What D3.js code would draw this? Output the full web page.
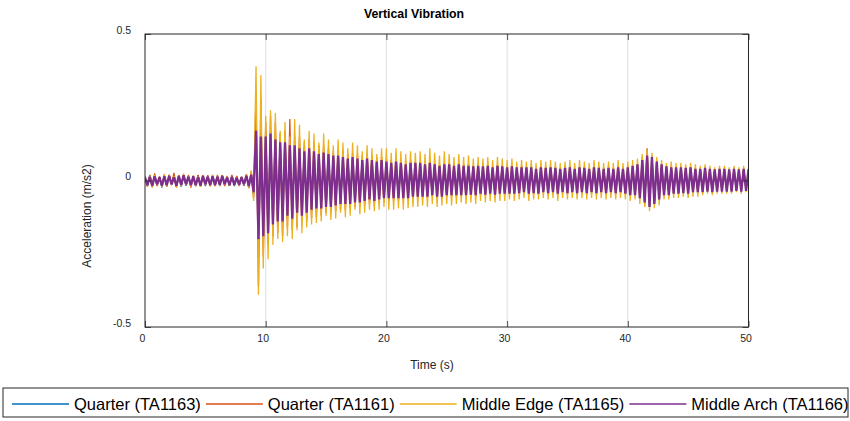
<!DOCTYPE html>
<html><head><meta charset="utf-8">
<script src="https://cdn.jsdelivr.net/npm/d3@7"></script>
<style>body{margin:0;background:#fff}svg{display:block;font-family:"Liberation Sans",Arial,Helvetica,sans-serif}</style>
</head><body><svg id="chart" width="850" height="421"></svg>
<script>
// ---------- chart data ----------
const chartTitle = "Vertical Vibration";
const xLabel = "Time (s)";
const yLabel = "Acceleration (m/s2)";
const xTicks = [0, 10, 20, 30, 40, 50];
const xTickLabels = ["0", "10", "20", "30", "40", "50"];
const yTicks = [-0.5, 0, 0.5];
const yTickLabels = ["-0.5", "0", "0.5"];
const seriesNames = ["Quarter (TA1163)", "Quarter (TA1161)", "Middle Edge (TA1165)", "Middle Arch (TA1166)"];
const seriesColors = ["#0072BD", "#D95319", "#EDB120", "#7E2F8E"];
const sampleStep = 0.2; // seconds between samples, starting at t = 0

const quarterTA1163 = [
0.014,-0.019,0.018,-0.021,0.016,-0.018,0.013,-0.024,0.016,-0.019,
0.018,-0.016,0.019,-0.022,0.014,-0.021,0.016,-0.018,0.014,-0.019,
0.016,-0.019,0.018,-0.016,0.014,-0.019,0.016,-0.018,0.019,-0.016,
0.014,-0.019,0.018,-0.016,0.013,-0.018,0.016,-0.019,0.014,-0.016,
0.013,-0.018,0.019,-0.024,0.025,-0.05,0.22,-0.26,0.2,-0.22,
0.17,-0.2,0.17,-0.16,0.16,-0.15,0.14,-0.15,0.14,-0.13,
0.13,-0.14,0.12,-0.12,0.12,-0.12,0.11,-0.11,0.11,-0.1,
0.1,-0.1,0.095,-0.095,0.095,-0.09,0.09,-0.09,0.085,-0.085,
0.085,-0.08,0.08,-0.08,0.075,-0.075,0.075,-0.07,0.07,-0.07,
0.07,-0.065,0.07,-0.065,0.065,-0.065,0.06,-0.06,0.065,-0.06,
0.06,-0.055,0.055,-0.055,0.06,-0.055,0.055,-0.05,0.05,-0.05,
0.055,-0.05,0.05,-0.05,0.05,-0.048,0.048,-0.048,0.05,-0.045,
0.048,-0.045,0.045,-0.045,0.048,-0.045,0.045,-0.043,0.043,-0.043,
0.045,-0.04,0.043,-0.043,0.043,-0.04,0.04,-0.043,0.043,-0.04,
0.04,-0.04,0.043,-0.04,0.04,-0.04,0.043,-0.038,0.04,-0.04,
0.038,-0.038,0.04,-0.038,0.038,-0.036,0.04,-0.035,0.038,-0.038,
0.038,-0.036,0.035,-0.038,0.038,-0.035,0.036,-0.036,0.038,-0.035,
0.036,-0.038,0.035,-0.035,0.036,-0.036,0.038,-0.035,0.035,-0.036,
0.038,-0.035,0.036,-0.036,0.035,-0.035,0.038,-0.036,0.036,-0.035,
0.035,-0.036,0.036,-0.035,0.035,-0.036,0.038,-0.035,0.035,-0.038,
0.038,-0.042,0.042,-0.043,0.048,-0.055,0.065,-0.07,0.085,-0.085,
0.075,-0.075,0.06,-0.06,0.05,-0.045,0.042,-0.043,0.042,-0.04,
0.04,-0.04,0.04,-0.038,0.038,-0.04,0.04,-0.035,0.035,-0.035,
0.035,-0.035,0.036,-0.032,0.035,-0.035,0.032,-0.032,0.035,-0.032,
0.035,-0.032,0.032,-0.032,0.035,-0.03,0.032,-0.032,0.035,-0.03,
0.032];

const quarterTA1161 = [
0.016,-0.021,0.019,-0.016,0.024,-0.019,0.014,-0.018,0.021,-0.022,
0.019,-0.014,0.026,-0.021,0.016,-0.019,0.018,-0.016,0.019,-0.024,
0.014,-0.018,0.019,-0.021,0.016,-0.014,0.018,-0.019,0.016,-0.018,
0.019,-0.016,0.014,-0.019,0.016,-0.018,0.019,-0.014,0.016,-0.019,
0.014,-0.016,0.022,-0.026,0.03,-0.06,0.3,-0.36,0.28,-0.26,
0.2,-0.22,0.22,-0.19,0.2,-0.18,0.16,-0.19,0.17,-0.16,
0.21,-0.17,0.15,-0.16,0.15,-0.14,0.13,-0.14,0.14,-0.13,
0.13,-0.125,0.12,-0.12,0.12,-0.11,0.11,-0.11,0.1,-0.105,
0.105,-0.1,0.1,-0.1,0.09,-0.095,0.095,-0.09,0.09,-0.09,
0.085,-0.085,0.09,-0.08,0.08,-0.085,0.08,-0.075,0.08,-0.075,
0.075,-0.07,0.07,-0.07,0.075,-0.07,0.07,-0.065,0.065,-0.065,
0.07,-0.06,0.065,-0.06,0.065,-0.06,0.06,-0.06,0.065,-0.055,
0.06,-0.06,0.055,-0.06,0.06,-0.055,0.06,-0.055,0.055,-0.055,
0.06,-0.05,0.055,-0.055,0.055,-0.05,0.05,-0.055,0.055,-0.05,
0.05,-0.05,0.055,-0.05,0.05,-0.05,0.055,-0.045,0.05,-0.05,
0.045,-0.045,0.05,-0.045,0.045,-0.045,0.05,-0.04,0.045,-0.045,
0.045,-0.045,0.04,-0.045,0.045,-0.04,0.045,-0.045,0.045,-0.04,
0.045,-0.045,0.04,-0.04,0.045,-0.045,0.045,-0.04,0.04,-0.045,
0.045,-0.04,0.045,-0.045,0.04,-0.04,0.045,-0.045,0.045,-0.04,
0.04,-0.045,0.045,-0.04,0.04,-0.045,0.045,-0.04,0.04,-0.045,
0.045,-0.05,0.05,-0.05,0.055,-0.06,0.08,-0.085,0.11,-0.09,
0.085,-0.08,0.065,-0.065,0.055,-0.05,0.05,-0.05,0.05,-0.045,
0.045,-0.045,0.045,-0.04,0.04,-0.045,0.045,-0.04,0.04,-0.04,
0.04,-0.04,0.04,-0.035,0.04,-0.04,0.035,-0.035,0.04,-0.035,
0.04,-0.035,0.035,-0.035,0.04,-0.03,0.035,-0.035,0.04,-0.03,
0.035];

const middleEdgeTA1165 = [
0.014,-0.02,0.016,-0.024,0.019,-0.016,0.01,-0.022,0.018,-0.02,
0.021,-0.016,0.015,-0.025,0.019,-0.018,0.024,-0.015,0.016,-0.021,
0.018,-0.02,0.013,-0.022,0.019,-0.016,0.015,-0.021,0.018,-0.02,
0.016,-0.018,0.019,-0.015,0.013,-0.019,0.015,-0.016,0.012,-0.018,
0.013,-0.015,0.019,-0.024,0.035,-0.07,0.39,-0.39,0.36,-0.3,
0.22,-0.27,0.24,-0.22,0.23,-0.2,0.17,-0.21,0.2,-0.19,
0.15,-0.2,0.21,-0.17,0.19,-0.18,0.14,-0.16,0.17,-0.15,
0.16,-0.145,0.13,-0.14,0.16,-0.12,0.14,-0.135,0.12,-0.13,
0.14,-0.11,0.13,-0.125,0.11,-0.12,0.13,-0.1,0.12,-0.115,
0.1,-0.11,0.12,-0.1,0.11,-0.105,0.09,-0.1,0.11,-0.09,
0.11,-0.1,0.095,-0.1,0.11,-0.095,0.1,-0.1,0.09,-0.095,
0.1,-0.09,0.095,-0.09,0.1,-0.085,0.09,-0.09,0.11,-0.08,
0.095,-0.09,0.085,-0.085,0.1,-0.08,0.09,-0.085,0.08,-0.08,
0.09,-0.075,0.08,-0.08,0.085,-0.075,0.075,-0.08,0.08,-0.07,
0.075,-0.075,0.08,-0.07,0.07,-0.075,0.08,-0.07,0.075,-0.07,
0.07,-0.065,0.075,-0.07,0.065,-0.065,0.07,-0.06,0.065,-0.07,
0.07,-0.065,0.06,-0.065,0.07,-0.06,0.065,-0.065,0.07,-0.06,
0.065,-0.07,0.06,-0.06,0.065,-0.065,0.07,-0.06,0.06,-0.065,
0.07,-0.06,0.065,-0.065,0.06,-0.06,0.07,-0.065,0.065,-0.06,
0.06,-0.065,0.065,-0.06,0.06,-0.065,0.07,-0.06,0.06,-0.065,
0.065,-0.07,0.07,-0.065,0.075,-0.08,0.09,-0.09,0.105,-0.105,
0.095,-0.095,0.08,-0.085,0.07,-0.065,0.06,-0.065,0.065,-0.06,
0.06,-0.06,0.06,-0.055,0.055,-0.06,0.06,-0.055,0.055,-0.055,
0.05,-0.05,0.055,-0.045,0.05,-0.05,0.045,-0.045,0.05,-0.045,
0.05,-0.045,0.045,-0.045,0.05,-0.04,0.045,-0.045,0.05,-0.04,
0.045];

const middleArchTA1166 = [
0.01,-0.016,0.013,-0.019,0.014,-0.013,0.011,-0.018,0.014,-0.016,
0.016,-0.013,0.011,-0.019,0.016,-0.015,0.018,-0.013,0.013,-0.016,
0.014,-0.016,0.011,-0.018,0.016,-0.013,0.013,-0.016,0.014,-0.016,
0.013,-0.015,0.016,-0.013,0.011,-0.016,0.013,-0.015,0.01,-0.015,
0.011,-0.013,0.016,-0.019,0.02,-0.04,0.17,-0.2,0.15,-0.19,
0.15,-0.18,0.16,-0.15,0.14,-0.14,0.13,-0.14,0.13,-0.12,
0.12,-0.13,0.12,-0.11,0.11,-0.12,0.1,-0.11,0.11,-0.1,
0.1,-0.095,0.09,-0.095,0.095,-0.09,0.09,-0.09,0.085,-0.085,
0.085,-0.08,0.08,-0.08,0.075,-0.08,0.08,-0.075,0.075,-0.075,
0.07,-0.07,0.075,-0.065,0.07,-0.07,0.065,-0.065,0.07,-0.06,
0.065,-0.06,0.06,-0.06,0.065,-0.06,0.06,-0.06,0.055,-0.06,
0.06,-0.055,0.06,-0.055,0.06,-0.055,0.055,-0.055,0.06,-0.05,
0.055,-0.055,0.05,-0.055,0.055,-0.05,0.055,-0.05,0.05,-0.05,
0.055,-0.05,0.05,-0.05,0.05,-0.048,0.048,-0.05,0.05,-0.045,
0.048,-0.048,0.05,-0.045,0.045,-0.048,0.05,-0.045,0.048,-0.045,
0.045,-0.045,0.048,-0.045,0.045,-0.043,0.045,-0.04,0.045,-0.045,
0.045,-0.043,0.04,-0.045,0.045,-0.04,0.043,-0.043,0.045,-0.04,
0.043,-0.045,0.04,-0.04,0.043,-0.043,0.045,-0.04,0.04,-0.043,
0.045,-0.04,0.043,-0.043,0.04,-0.04,0.045,-0.043,0.043,-0.04,
0.04,-0.043,0.043,-0.04,0.04,-0.043,0.045,-0.04,0.04,-0.045,
0.045,-0.05,0.05,-0.05,0.055,-0.06,0.07,-0.075,0.085,-0.09,
0.08,-0.08,0.065,-0.065,0.055,-0.05,0.048,-0.05,0.045,-0.045,
0.045,-0.045,0.045,-0.043,0.043,-0.045,0.045,-0.04,0.04,-0.04,
0.04,-0.04,0.043,-0.038,0.04,-0.04,0.038,-0.038,0.04,-0.038,
0.04,-0.038,0.038,-0.038,0.04,-0.035,0.038,-0.038,0.04,-0.035,
0.038];

const seriesValues = [quarterTA1163, quarterTA1161, middleEdgeTA1165, middleArchTA1166];
const seriesWidths = [1.3, 1.3, 1.3, 2.3];

// ---------- layout ----------
const plot = {left: 145, right: 748.5, top: 34, bottom: 327};
const axisColor = "#262626";
const svg = d3.select("#chart");

const x = d3.scaleLinear().domain([0, 50]).range([plot.left, plot.right]);
const y = d3.scaleLinear().domain([-0.5, 0.5]).range([plot.bottom, plot.top]);

// grid (vertical)
svg.append("g").selectAll("line")
  .data(xTicks.filter(t => t > 0 && t < 50))
  .join("line")
  .attr("x1", d => x(d)).attr("x2", d => x(d))
  .attr("y1", plot.top).attr("y2", plot.bottom)
  .attr("stroke", "#dedede").attr("stroke-width", 1);

// series
svg.append("clipPath").attr("id", "plotclip").append("rect")
  .attr("x", plot.left).attr("y", plot.top)
  .attr("width", plot.right - plot.left).attr("height", plot.bottom - plot.top);

const lineGen = d3.line()
  .x((d, i) => x(i * sampleStep))
  .y(d => y(d));

const gSeries = svg.append("g").attr("clip-path", "url(#plotclip)");
seriesValues.forEach((vals, k) => {
  gSeries.append("path")
    .datum(vals)
    .attr("d", lineGen)
    .attr("fill", "none")
    .attr("stroke", seriesColors[k])
    .attr("stroke-width", seriesWidths[k])
    .attr("stroke-linejoin", "bevel");
});

// axes (inward ticks, box)
const tickLen = 6;
const styleAxis = g => {
  g.select(".domain").remove();
  g.selectAll(".tick line").attr("stroke", axisColor).attr("stroke-width", 0.8);
  g.selectAll("text").attr("fill", "#262626").style("font-size", "10.5px")
    .style("font-family", '"Liberation Sans", Arial, sans-serif');
};

svg.append("g").attr("transform", `translate(0,${plot.bottom})`)
  .call(d3.axisBottom(x).tickValues(xTicks).tickFormat((d, i) => xTickLabels[i])
    .tickSizeInner(-tickLen).tickSizeOuter(0).tickPadding(8))
  .call(styleAxis)
  .call(g => g.selectAll("text").attr("dx", "-3"));

svg.append("g").attr("transform", `translate(0,${plot.top})`)
  .call(d3.axisTop(x).tickValues(xTicks).tickFormat("").tickSizeInner(-tickLen).tickSizeOuter(0))
  .call(styleAxis);

svg.append("g").attr("transform", `translate(${plot.left},0)`)
  .call(d3.axisLeft(y).tickValues(yTicks).tickFormat((d, i) => yTickLabels[i])
    .tickSizeInner(-tickLen).tickSizeOuter(0).tickPadding(14))
  .call(styleAxis)
  .call(g => g.selectAll("text").attr("dy", "-0.08em"));

svg.append("g").attr("transform", `translate(${plot.right},0)`)
  .call(d3.axisRight(y).tickValues(yTicks).tickFormat("").tickSizeInner(-tickLen).tickSizeOuter(0))
  .call(styleAxis);

svg.append("rect")
  .attr("x", plot.left).attr("y", plot.top)
  .attr("width", plot.right - plot.left).attr("height", plot.bottom - plot.top)
  .attr("fill", "none").attr("stroke", axisColor).attr("stroke-width", 1);

// title & labels
svg.append("text").attr("x", 414).attr("y", 18)
  .attr("text-anchor", "middle").style("font-size", "12.3px").style("font-weight", "bold")
  .attr("fill", "#000").text(chartTitle);

svg.append("text").attr("x", 432).attr("y", 369)
  .attr("text-anchor", "middle").style("font-size", "12px").attr("fill", "#262626").text(xLabel);

svg.append("text").attr("transform", "translate(91,216) rotate(-90)")
  .attr("text-anchor", "middle").style("font-size", "12px").attr("fill", "#262626").text(yLabel);

// legend
const leg = {x: 3, y: 388, w: 845, h: 29, lineLen: 57, gapLine: 5, gapItem: 5};
const gLeg = svg.append("g");
gLeg.append("rect").attr("x", leg.x).attr("y", leg.y).attr("width", leg.w).attr("height", leg.h)
  .attr("fill", "#fff").attr("stroke", axisColor).attr("stroke-width", 1);
let cx = leg.x + 9;
const cy = leg.y + 16;
seriesNames.forEach((name, k) => {
  gLeg.append("line").attr("x1", cx).attr("x2", cx + leg.lineLen)
    .attr("y1", cy).attr("y2", cy).attr("stroke", seriesColors[k]).attr("stroke-width", 1.6);
  const t = gLeg.append("text").attr("x", cx + leg.lineLen + leg.gapLine).attr("y", cy + 5.5)
    .style("font-size", "16.5px").attr("fill", "#000").text(name);
  cx += leg.lineLen + leg.gapLine + t.node().getComputedTextLength() + leg.gapItem;
});
</script></body></html>
